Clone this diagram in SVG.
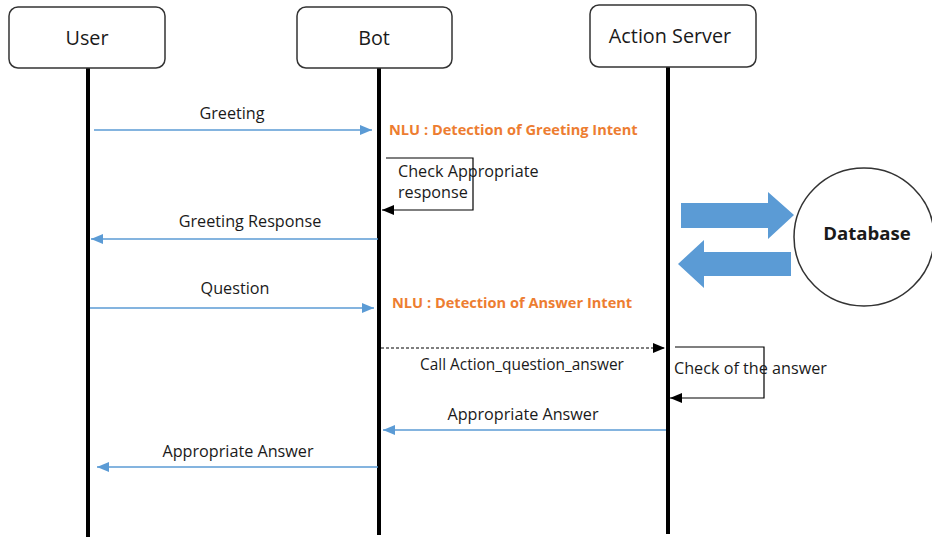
<svg xmlns="http://www.w3.org/2000/svg" width="932" height="539" viewBox="0 0 932 539">
  <style>
    .box { fill: #ffffff; stroke: #333333; stroke-width: 1.5; }
    .life { stroke: #000000; stroke-width: 4; }
    .title { font-family: "Open Sans", "Noto Sans", sans-serif; font-size: 19.8px; fill: #1a1a1a; text-anchor: middle; }
    .lbl { font-family: "Open Sans", "Noto Sans", sans-serif; font-size: 16.2px; fill: #1a1a1a; }
    .small { font-family: "Open Sans", "Noto Sans", sans-serif; font-size: 15.4px; fill: #1a1a1a; }
    .nlu { font-family: "Open Sans", "Noto Sans", sans-serif; font-size: 14.6px; font-weight: bold; fill: #ED7D31; }
    .msg { stroke: #5B9BD5; stroke-width: 1.5; fill: none; }
    .self { stroke: #000000; stroke-width: 1.2; fill: none; }
    .dash { stroke: #000000; stroke-width: 1.2; stroke-dasharray: 3 2; fill: none; }
    .bigarrow { fill: #5B9BD5; }
  </style>
  <defs>
    <marker id="blueHead" markerUnits="userSpaceOnUse" markerWidth="13" markerHeight="11" refX="12" refY="5" orient="auto">
      <path d="M0,0 L12,5 L0,10 z" fill="#5B9BD5"/>
    </marker>
    <marker id="blackHead" markerUnits="userSpaceOnUse" markerWidth="13" markerHeight="11" refX="12" refY="5" orient="auto">
      <path d="M0,0 L12,5 L0,10 z" fill="#000000"/>
    </marker>
  </defs>

  <rect width="932" height="539" fill="#ffffff"/>

  <!-- participants with their lifelines -->
  <g id="user">
    <line class="life" x1="88" y1="68" x2="88" y2="537"/>
    <rect class="box" x="9" y="7" width="156" height="61" rx="9"/>
    <text class="title" x="87" y="45">User</text>
  </g>
  <g id="bot">
    <line class="life" x1="379" y1="68" x2="379" y2="535"/>
    <rect class="box" x="297" y="7" width="155" height="61" rx="9"/>
    <text class="title" x="374" y="45">Bot</text>
  </g>
  <g id="action-server">
    <line class="life" x1="668" y1="67" x2="668" y2="534"/>
    <rect class="box" x="590" y="5" width="166" height="62" rx="9"/>
    <text class="title" x="670" y="43">Action Server</text>
  </g>
  <g id="database">
    <ellipse class="box" cx="864" cy="237" rx="70" ry="69"/>
    <text x="867" y="240" font-family="'Open Sans', 'Noto Sans', sans-serif" font-size="18.6px" font-weight="bold" fill="#1a1a1a" text-anchor="middle">Database</text>
  </g>

  <!-- messages -->
  <g id="connectors">
    <line class="msg" x1="94" y1="130" x2="372" y2="130" marker-end="url(#blueHead)"/>
    <text class="lbl" x="232" y="119" text-anchor="middle">Greeting</text>
    <text class="nlu" x="389" y="135">NLU : Detection of Greeting Intent</text>

    <path class="self" d="M386,158 H473 V210 H382" marker-end="url(#blackHead)"/>
    <text class="lbl" x="398" y="177">Check Appropriate</text>
    <text class="lbl" x="398" y="198">response</text>

    <line class="msg" x1="378" y1="239" x2="91" y2="239" marker-end="url(#blueHead)"/>
    <text class="lbl" x="250" y="227" text-anchor="middle">Greeting Response</text>

    <line class="msg" x1="90" y1="308" x2="374" y2="308" marker-end="url(#blueHead)"/>
    <text class="lbl" x="235" y="294" text-anchor="middle">Question</text>
    <text class="nlu" x="392" y="308">NLU : Detection of Answer Intent</text>

    <line class="dash" x1="381" y1="348" x2="665" y2="348" marker-end="url(#blackHead)"/>
    <text class="small" x="522" y="370" text-anchor="middle">Call Action_question_answer</text>

    <path class="self" d="M675,347 H764 V398 H670" marker-end="url(#blackHead)"/>
    <text class="lbl" x="674" y="374">Check of the answer</text>

    <line class="msg" x1="666" y1="430" x2="383" y2="430" marker-end="url(#blueHead)"/>
    <text class="lbl" x="523" y="420" text-anchor="middle">Appropriate Answer</text>

    <line class="msg" x1="378" y1="467" x2="97" y2="467" marker-end="url(#blueHead)"/>
    <text class="lbl" x="238" y="457" text-anchor="middle">Appropriate Answer</text>

    <!-- block arrows between Action Server and Database -->
    <polygon class="bigarrow" points="681,203 768,203 768,192 794,215 768,239 768,228 681,228"/>
    <polygon class="bigarrow" points="791,252 704,252 704,240 678,264 704,288 704,276 791,276"/>
  </g>
</svg>
